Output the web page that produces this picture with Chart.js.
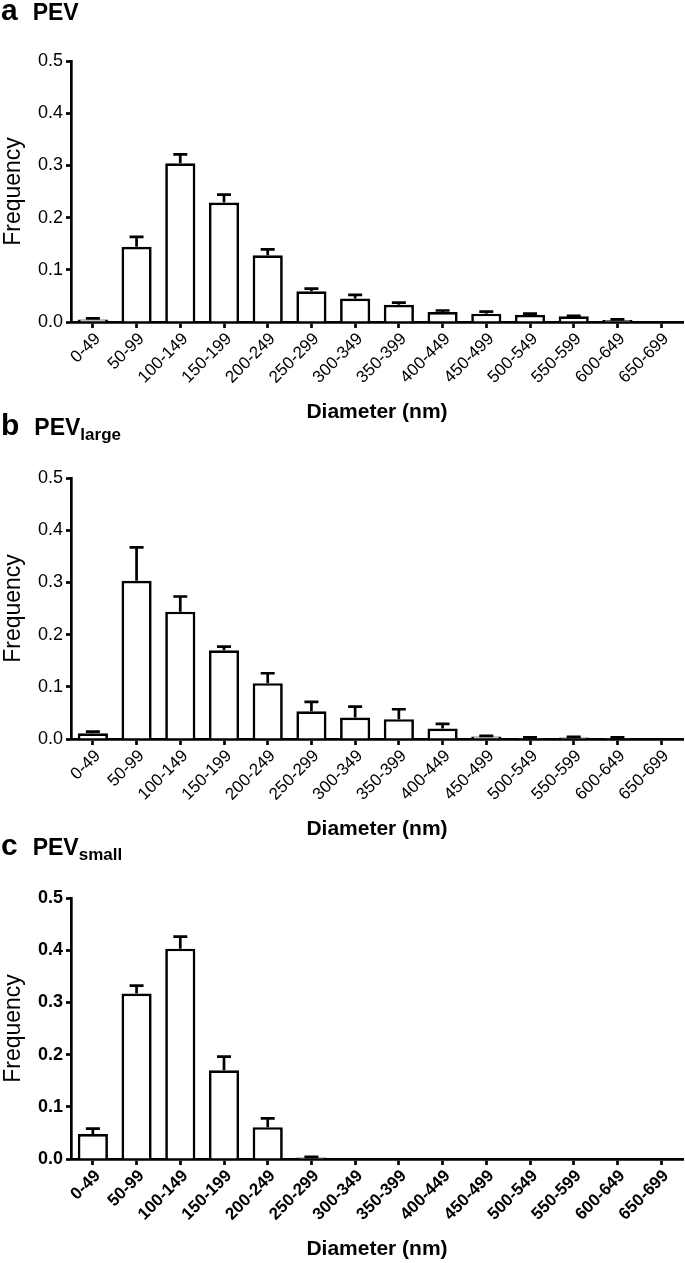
<!DOCTYPE html>
<html>
<head>
<meta charset="utf-8">
<script src="https://cdn.jsdelivr.net/npm/chart.js@4.4.0/dist/chart.umd.min.js"></script>
<style>
  html, body { margin:0; padding:0; background:#fff; }
  body { width:685px; height:1263px; position:relative; overflow:hidden; font-family:"Liberation Sans", Arial, Helvetica, sans-serif; color:#000; }
  .panel { position:absolute; left:0; width:685px; }
  .panel canvas { position:absolute; left:0; top:0; }
  .ptitle { position:absolute; left:1px; display:flex; align-items:baseline; line-height:1; z-index:5; }
  .ptitle .letter { font-size:30px; font-weight:bold; }
  .ptitle .name { font-size:23px; font-weight:bold; margin-left:15px; }
  .ptitle .sub { font-size:17px; font-weight:bold; position:relative; top:5px; }
</style>
</head>
<body>
<div class="ptitle" style="top:-5px"><span class="letter">a</span><span class="name">PEV</span></div>
<div class="ptitle" style="top:410px"><span class="letter">b</span><span class="name">PEV<span class="sub">large</span></span></div>
<div class="ptitle" style="top:830px"><span class="letter">c</span><span class="name">PEV<span class="sub">small</span></span></div>

<div class="panel" style="top:0px;height:430px"><canvas id="chartA" width="685" height="430"></canvas></div>
<div class="panel" style="top:417px;height:430px"><canvas id="chartB" width="685" height="430"></canvas></div>
<div class="panel" style="top:837px;height:426px"><canvas id="chartC" width="685" height="426"></canvas></div>

<script>
// ---- Data ----
const categories = ['0-49','50-99','100-149','150-199','200-249','250-299','300-349','350-399','400-449','450-499','500-549','550-599','600-649','650-699'];

const pevMean = [0.005, 0.144, 0.304, 0.229, 0.128, 0.059, 0.045, 0.033, 0.019, 0.016, 0.014, 0.011, 0.004, 0];
const pevSem  = [0.002, 0.019, 0.017, 0.015, 0.011, 0.005, 0.007, 0.004, 0.003, 0.004, 0.002, 0.001, 0.001, 0];

const pevLargeMean = [0.011, 0.303, 0.244, 0.170, 0.107, 0.053, 0.041, 0.038, 0.020, 0.005, 0.002, 0.003, 0.002, 0];
const pevLargeSem  = [0.003, 0.064, 0.029, 0.007, 0.019, 0.018, 0.021, 0.019, 0.009, 0.001, 0.001, 0.001, 0.001, 0];

const pevSmallMean = [0.048, 0.317, 0.403, 0.170, 0.061, 0.003, 0, 0, 0, 0, 0, 0, 0, 0];
const pevSmallSem  = [0.010, 0.015, 0.023, 0.026, 0.017, 0.001, 0, 0, 0, 0, 0, 0, 0, 0];

const yTickLabels = ['0.0','0.1','0.2','0.3','0.4','0.5'];
const xTitle = 'Diameter (nm)';
const yTitle = 'Frequency';

// ---- Rendering ----
const FONT = '"Liberation Sans", Arial, Helvetica, sans-serif';
const LINE = 2.7;

const errorBarPlugin = {
  id: 'errorBars',
  afterDatasetsDraw(chart) {
    const ctx = chart.ctx;
    const xs = chart.scales.x, ys = chart.scales.y;
    const ds = chart.data.datasets[0];
    ctx.save();
    ctx.strokeStyle = '#000';
    ctx.lineWidth = LINE;
    ctx.lineCap = 'butt';
    ds.data.forEach((v, i) => {
      const e = ds.errors[i];
      if (!e) return;
      const xc = xs.getPixelForValue(i);
      const y0 = ys.getPixelForValue(v);
      const y1 = ys.getPixelForValue(v + e);
      ctx.beginPath();
      ctx.moveTo(xc, y0);
      ctx.lineTo(xc, y1);
      ctx.moveTo(xc - 7, y1);
      ctx.lineTo(xc + 7, y1);
      ctx.stroke();
    });
    ctx.restore();
  }
};

function makeChart(id, means, errs, canvasH, boldTicks) {
  const tickWeight = boldTicks ? 'bold' : 'normal';
  return new Chart(document.getElementById(id), {
    type: 'bar',
    data: {
      labels: categories,
      datasets: [{
        data: means,
        errors: errs,
        backgroundColor: '#fff',
        borderColor: '#000',
        borderWidth: LINE,
        barPercentage: 0.69,
        categoryPercentage: 1.0
      }]
    },
    options: {
      responsive: false,
      animation: false,
      devicePixelRatio: 1,
      layout: { padding: { top: 61, right: 2, left: 0, bottom: canvasH - 425 } },
      plugins: { legend: { display: false }, tooltip: { enabled: false } },
      scales: {
        x: {
          grid: { display: true, drawOnChartArea: false, drawTicks: true, tickLength: 6, tickWidth: LINE, tickColor: '#000', offset: false },
          border: { display: true, color: '#000', width: LINE },
          ticks: { color: '#000', font: { family: FONT, size: 17, weight: tickWeight }, minRotation: 45, maxRotation: 45, autoSkip: false, padding: 1, labelOffset: 5 },
          title: { display: true, text: xTitle, color: '#000', font: { family: FONT, size: 21, weight: 'bold' }, padding: 0 },
          afterFit(s) { s.height = 103; }
        },
        y: {
          min: 0, max: 0.5,
          grid: { display: true, drawOnChartArea: false, drawTicks: true, tickLength: 5, tickWidth: LINE, tickColor: '#000' },
          border: { display: true, color: '#000', width: LINE },
          ticks: { stepSize: 0.1, color: '#000', font: { family: FONT, size: 18, weight: tickWeight }, padding: 3,
                   callback: (v, i) => yTickLabels[Math.round(v * 10)] },
          title: { display: true, text: yTitle, color: '#000', font: { family: FONT, size: 23, weight: 'normal' }, padding: 0 },
          afterFit(s) { s.width = 71; }
        }
      }
    },
    plugins: [errorBarPlugin]
  });
}

makeChart('chartA', pevMean, pevSem, 430, false);
makeChart('chartB', pevLargeMean, pevLargeSem, 430, false);
makeChart('chartC', pevSmallMean, pevSmallSem, 426, true);
</script>
</body>
</html>
